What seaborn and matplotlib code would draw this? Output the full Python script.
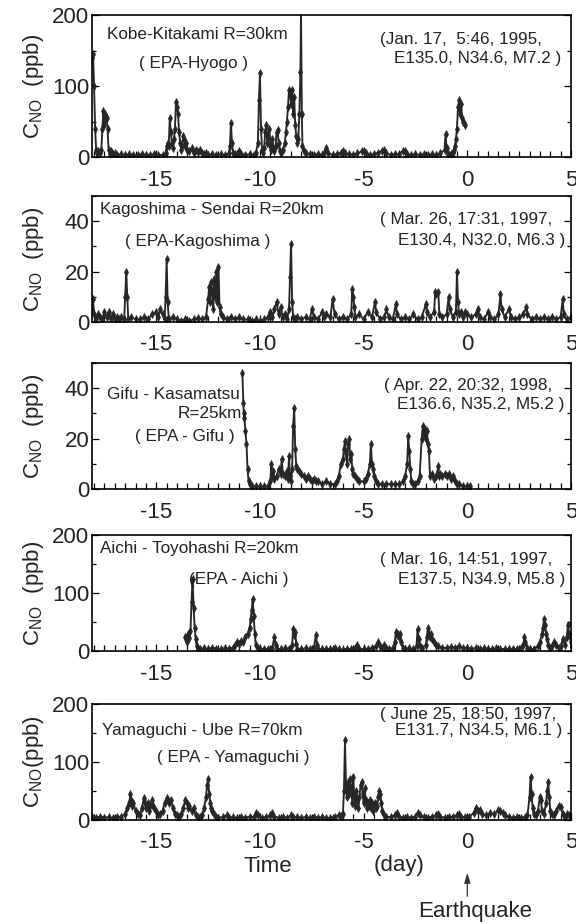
import matplotlib
matplotlib.use("Agg")
import matplotlib.pyplot as plt
import matplotlib.transforms as mtransforms
from matplotlib.ticker import MultipleLocator
import seaborn as sns
import pandas as pd

# ---------------- data (time in days relative to earthquake, C_NO in ppb) -------------
kobe = [(-18.1,140),(-18.05,145),(-18.0,100),(-17.95,40),(-17.9,10),(-17.85,6),(-17.8,8),(-17.7,5),
        (-17.65,10),(-17.6,40),(-17.55,65),(-17.5,45),(-17.45,60),(-17.4,55),(-17.35,40),(-17.3,10),
        (-17.25,4),(-17.2,8),(-17.1,4),(-17.0,5),(-16.9,3),(-16.7,4),(-16.5,3),(-16.3,4),(-16.1,3),
        (-15.9,3),(-15.7,4),(-15.5,3),(-15.3,3),(-15.1,4),(-14.9,3),(-14.7,3),(-14.55,5),(-14.5,15),
        (-14.45,20),(-14.4,15),(-14.35,55),(-14.3,35),(-14.25,20),(-14.2,12),(-14.15,25),(-14.1,40),
        (-14.05,78),(-14.0,70),(-13.95,60),(-13.9,35),(-13.85,20),(-13.8,10),(-13.75,15),(-13.7,30),
        (-13.65,25),(-13.6,15),(-13.55,20),(-13.5,10),(-13.4,8),(-13.3,12),(-13.2,6),(-13.1,10),
        (-13.0,7),(-12.9,10),(-12.8,6),(-12.7,4),(-12.6,5),(-12.5,3),(-12.3,4),(-12.1,3),(-11.9,4),
        (-11.7,3),(-11.5,5),(-11.45,15),(-11.4,48),(-11.35,20),(-11.3,5),(-11.2,4),(-11.1,4),
        (-11.0,8),(-10.9,4),(-10.7,3),(-10.5,4),(-10.3,3),(-10.2,5),(-10.1,20),(-10.05,80),
        (-10.0,118),(-9.95,40),(-9.9,10),(-9.85,5),(-9.8,12),(-9.75,35),(-9.7,45),(-9.65,20),
        (-9.6,30),(-9.55,40),(-9.5,15),(-9.45,10),(-9.4,25),(-9.35,12),(-9.3,8),(-9.25,15),
        (-9.2,35),(-9.15,38),(-9.1,20),(-9.05,8),(-9.0,5),(-8.9,10),(-8.8,20),(-8.75,35),(-8.7,50),
        (-8.65,70),(-8.6,95),(-8.55,90),(-8.5,75),(-8.45,95),(-8.4,60),(-8.35,85),(-8.3,45),
        (-8.25,30),(-8.2,20),(-8.15,25),(-8.1,60),(-8.05,120),(-8.02,205),(-7.98,60),(-7.95,15),
        (-7.9,8),(-7.8,5),(-7.6,4),(-7.4,3),(-7.2,4),(-7.0,3),(-6.9,6),(-6.8,12),(-6.7,5),(-6.5,3),
        (-6.3,4),(-6.1,6),(-6.0,9),(-5.9,5),(-5.7,4),(-5.5,3),(-5.3,5),(-5.1,8),(-5.0,9),(-4.9,5),
        (-4.7,3),(-4.5,4),(-4.3,6),(-4.1,9),(-4.0,10),(-3.9,5),(-3.7,3),(-3.5,4),(-3.3,4),(-3.1,9),
        (-3.0,8),(-2.9,4),(-2.7,3),(-2.5,4),(-2.3,3),(-2.1,4),(-1.9,3),(-1.7,4),(-1.5,3),(-1.3,5),
        (-1.1,10),(-1.05,32),(-1.0,12),(-0.95,4),(-0.9,3),(-0.8,4),(-0.7,5),(-0.65,10),(-0.6,15),
        (-0.55,25),(-0.5,40),(-0.45,70),(-0.4,80),(-0.35,60),(-0.3,75),(-0.25,55),(-0.2,50),
        (-0.15,48),(-0.1,45)]

kagoshima = [(-18.1,5),(-18.05,9),(-18.0,3),(-17.9,1),(-17.8,3),(-17.7,2),(-17.6,1),(-17.5,4),
             (-17.4,2),(-17.3,4),(-17.2,1),(-17.1,3),(-17.0,1),(-16.9,2),(-16.8,1),(-16.7,2),
             (-16.55,1),(-16.5,10),(-16.45,20),(-16.4,10),(-16.35,1),(-16.2,2),(-16.0,1),(-15.8,1),
             (-15.6,2),(-15.4,1),(-15.2,3),(-15.0,4),(-14.9,2),(-14.8,5),(-14.7,3),(-14.6,1),
             (-14.55,10),(-14.5,25),(-14.45,8),(-14.4,1),(-14.2,2),(-14.0,1),(-13.8,0.5),(-13.6,1),
             (-13.4,0.5),(-13.2,1),(-13.0,1.5),(-12.8,1),(-12.6,2),(-12.5,9),(-12.45,14),(-12.4,8),
             (-12.35,16),(-12.3,12),(-12.25,5),(-12.2,17),(-12.15,10),(-12.1,20),(-12.05,8),
             (-12.0,22),(-11.95,6),(-11.9,3),(-11.8,2),(-11.6,1),(-11.4,2),(-11.2,1),(-11.0,2),
             (-10.8,1),(-10.6,1),(-10.4,0.5),(-10.2,1),(-10.0,0.5),(-9.8,1),(-9.6,2),(-9.5,4),
             (-9.4,2),(-9.3,5),(-9.2,8),(-9.1,3),(-9.0,6),(-8.9,2),(-8.8,3),(-8.7,1),(-8.6,5),
             (-8.55,18),(-8.5,31),(-8.45,8),(-8.4,2),(-8.3,1),(-8.2,2),(-8.0,1),(-7.8,2),(-7.6,1),
             (-7.5,5),(-7.4,2),(-7.2,1),(-7.0,4),(-6.9,2),(-6.8,3),(-6.6,2),(-6.5,9),(-6.4,3),
             (-6.2,1),(-6.0,2),(-5.8,1),(-5.6,3),(-5.55,13),(-5.5,10),(-5.45,6),(-5.4,2),(-5.2,3),
             (-5.0,1),(-4.8,4),(-4.6,2),(-4.45,8),(-4.4,4),(-4.2,1),(-4.0,2),(-3.9,5),(-3.8,2),
             (-3.6,1),(-3.45,7),(-3.4,3),(-3.2,1),(-3.0,2),(-2.8,1),(-2.6,3),(-2.4,1),(-2.2,2),
             (-2.0,7),(-1.95,4),(-1.8,2),(-1.6,4),(-1.55,12),(-1.5,11),(-1.4,12),(-1.35,3),
             (-1.2,2),(-1.0,3),(-0.9,10),(-0.85,5),(-0.7,2),(-0.55,4),(-0.5,20),(-0.45,8),(-0.4,3),
             (-0.3,4),(-0.2,2),(-0.1,4),(0.0,3),(0.2,2),(0.4,3),(0.5,5),(0.6,2),(0.8,1),(1.0,4),
             (1.1,2),(1.3,1),(1.5,3),(1.6,11),(1.65,5),(1.8,2),(2.0,5),(2.1,2),(2.3,1),(2.5,2),
             (2.7,3),(2.85,6),(2.9,3),(3.1,1),(3.3,2),(3.5,1),(3.7,2),(3.9,1),(4.1,2),(4.3,1),
             (4.5,2),(4.6,9),(4.65,3),(4.8,1),(5.0,2)]

gifu = [(-10.85,46),(-10.8,34),(-10.78,30),(-10.75,28),(-10.7,23),(-10.65,18),(-10.6,8),(-10.55,3),
        (-10.5,2),(-10.4,1),(-10.2,1),(-10.0,1),(-9.8,1),(-9.6,1),(-9.5,3),(-9.45,10),(-9.4,5),
        (-9.35,7),(-9.3,4),(-9.2,5),(-9.1,8),(-9.0,6),(-8.95,12),(-8.9,6),(-8.8,5),(-8.7,7),
        (-8.65,4),(-8.6,13),(-8.55,5),(-8.5,3),(-8.45,8),(-8.4,25),(-8.35,32),(-8.3,16),(-8.25,9),
        (-8.2,8),(-8.1,7),(-8.0,6),(-7.9,5),(-7.8,4),(-7.7,5),(-7.6,4),(-7.5,3),(-7.4,4),(-7.3,3),
        (-7.2,3),(-7.0,2),(-6.8,3),(-6.6,2),(-6.4,2),(-6.3,3),(-6.2,5),(-6.1,10),(-6.0,12),
        (-5.95,16),(-5.9,19),(-5.85,14),(-5.8,10),(-5.75,18),(-5.7,20),(-5.65,12),(-5.6,14),
        (-5.55,8),(-5.5,6),(-5.4,5),(-5.3,4),(-5.2,3),(-5.0,3),(-4.9,4),(-4.8,6),(-4.7,10),
        (-4.65,18),(-4.6,10),(-4.55,8),(-4.5,5),(-4.4,3),(-4.3,2),(-4.1,2),(-3.9,2),(-3.7,2),
        (-3.5,2),(-3.3,2),(-3.1,3),(-3.0,5),(-2.9,10),(-2.85,21),(-2.8,15),(-2.75,8),(-2.7,3),
        (-2.6,2),(-2.5,2),(-2.4,3),(-2.3,5),(-2.2,20),(-2.15,25),(-2.1,22),(-2.05,24),(-2.0,20),
        (-1.95,23),(-1.9,18),(-1.85,15),(-1.8,5),(-1.7,6),(-1.6,4),(-1.5,5),(-1.4,9),(-1.35,5),
        (-1.3,6),(-1.2,5),(-1.1,6),(-1.0,5),(-0.9,6),(-0.8,4),(-0.7,5),(-0.6,3),(-0.5,2),(-0.4,2),
        (-0.2,1),(0.0,1),(0.15,1)]

aichi = [(-13.6,25),(-13.55,20),(-13.5,15),(-13.45,30),(-13.4,22),(-13.35,35),(-13.3,85),(-13.25,125),
         (-13.2,75),(-13.15,40),(-13.1,20),(-13.05,8),(-13.0,4),(-12.9,3),(-12.7,5),(-12.5,3),
         (-12.3,6),(-12.1,4),(-11.9,3),(-11.7,5),(-11.5,4),(-11.3,6),(-11.2,10),(-11.1,15),
         (-11.0,12),(-10.9,18),(-10.8,15),(-10.7,25),(-10.6,30),(-10.5,40),(-10.45,55),(-10.4,70),
         (-10.35,90),(-10.3,60),(-10.25,30),(-10.2,10),(-10.1,5),(-10.0,3),(-9.8,4),(-9.6,3),
         (-9.4,6),(-9.3,25),(-9.25,10),(-9.2,4),(-9.0,3),(-8.8,5),(-8.6,4),(-8.45,10),(-8.4,38),
         (-8.35,28),(-8.3,32),(-8.25,12),(-8.2,4),(-8.0,3),(-7.8,5),(-7.6,3),(-7.4,6),(-7.3,28),
         (-7.25,10),(-7.2,4),(-7.0,3),(-6.8,4),(-6.6,3),(-6.4,6),(-6.2,3),(-6.0,2),(-5.8,4),
         (-5.6,3),(-5.4,5),(-5.3,10),(-5.2,4),(-5.0,3),(-4.8,4),(-4.6,5),(-4.4,8),(-4.3,15),
         (-4.2,8),(-4.1,5),(-4.0,10),(-3.9,6),(-3.8,4),(-3.6,5),(-3.5,15),(-3.45,32),(-3.4,28),
         (-3.35,30),(-3.3,25),(-3.25,30),(-3.2,15),(-3.1,5),(-3.0,4),(-2.8,5),(-2.6,3),(-2.45,8),
         (-2.4,38),(-2.35,20),(-2.3,8),(-2.2,5),(-2.0,10),(-1.95,25),(-1.9,40),(-1.85,30),
         (-1.8,25),(-1.75,30),(-1.7,20),(-1.6,15),(-1.5,10),(-1.4,8),(-1.2,6),(-1.0,5),(-0.8,7),
         (-0.6,6),(-0.4,8),(-0.2,5),(0.0,6),(0.2,4),(0.4,5),(0.6,3),(0.8,5),(1.0,4),(1.2,3),
         (1.4,5),(1.6,3),(1.8,4),(2.0,3),(2.2,4),(2.4,3),(2.6,6),(2.7,10),(2.75,25),(2.8,15),
         (2.9,6),(3.0,3),(3.2,4),(3.4,8),(3.5,15),(3.6,30),(3.65,40),(3.7,55),(3.75,45),(3.8,30),
         (3.85,20),(3.9,10),(4.0,5),(4.1,8),(4.2,15),(4.3,10),(4.4,5),(4.5,8),(4.6,20),(4.7,10),
         (4.8,25),(4.85,45),(4.9,30),(5.0,15)]

yamaguchi = [(-18.1,5),(-17.9,4),(-17.7,6),(-17.5,4),(-17.3,5),(-17.1,3),(-16.9,5),(-16.7,6),
             (-16.5,10),(-16.4,20),(-16.3,30),(-16.25,45),(-16.2,35),(-16.15,25),(-16.1,30),
             (-16.0,15),(-15.9,10),(-15.8,8),(-15.7,20),(-15.6,38),(-15.55,30),(-15.5,20),
             (-15.4,30),(-15.35,15),(-15.3,25),(-15.2,35),(-15.15,25),(-15.1,20),(-15.0,15),
             (-14.9,8),(-14.8,10),(-14.7,15),(-14.6,30),(-14.5,38),(-14.45,35),(-14.4,30),
             (-14.3,35),(-14.2,20),(-14.1,10),(-14.0,8),(-13.9,6),(-13.8,10),(-13.7,20),(-13.6,35),
             (-13.5,30),(-13.45,20),(-13.4,25),(-13.3,15),(-13.2,20),(-13.1,8),(-13.0,6),(-12.9,5),
             (-12.8,8),(-12.7,20),(-12.6,40),(-12.55,60),(-12.5,70),(-12.45,45),(-12.4,30),
             (-12.35,20),(-12.3,15),(-12.2,10),(-12.1,5),(-12.0,4),(-11.8,5),(-11.6,8),(-11.5,4),
             (-11.3,5),(-11.1,3),(-10.9,5),(-10.7,4),(-10.5,6),(-10.3,5),(-10.2,12),(-10.1,8),
             (-9.9,4),(-9.7,5),(-9.5,8),(-9.4,12),(-9.3,6),(-9.1,4),(-8.9,5),(-8.7,4),(-8.5,8),
             (-8.4,6),(-8.2,5),(-8.0,4),(-7.8,5),(-7.6,3),(-7.4,6),(-7.2,4),(-7.0,5),(-6.8,3),
             (-6.6,4),(-6.4,6),(-6.2,8),(-6.1,7),(-6.0,10),(-5.95,50),(-5.9,138),(-5.85,60),
             (-5.8,40),(-5.75,65),(-5.7,45),(-5.65,70),(-5.6,55),(-5.55,30),(-5.5,75),(-5.45,40),
             (-5.4,25),(-5.35,50),(-5.3,35),(-5.25,20),(-5.2,40),(-5.15,60),(-5.1,65),(-5.05,45),
             (-5.0,30),(-4.95,55),(-4.9,35),(-4.85,20),(-4.8,30),(-4.75,25),(-4.7,35),(-4.65,20),
             (-4.6,30),(-4.55,15),(-4.5,25),(-4.45,30),(-4.4,20),(-4.35,25),(-4.3,40),(-4.25,50),
             (-4.2,45),(-4.15,30),(-4.1,15),(-4.0,8),(-3.9,6),(-3.7,5),(-3.5,8),(-3.4,12),(-3.3,6),
             (-3.1,4),(-2.9,5),(-2.7,4),(-2.5,6),(-2.4,12),(-2.3,8),(-2.1,5),(-1.9,4),(-1.7,6),
             (-1.5,8),(-1.4,10),(-1.3,6),(-1.1,4),(-0.9,5),(-0.7,6),(-0.5,8),(-0.4,10),(-0.3,6),
             (-0.1,5),(0.1,6),(0.3,12),(0.4,20),(0.5,15),(0.6,18),(0.7,10),(0.9,8),(1.1,12),
             (1.3,10),(1.5,18),(1.6,15),(1.7,12),(1.8,8),(2.0,5),(2.2,4),(2.4,6),(2.6,4),(2.8,5),
             (2.9,8),(3.0,40),(3.05,75),(3.1,45),(3.15,20),(3.2,10),(3.3,8),(3.4,15),(3.5,40),
             (3.55,35),(3.6,15),(3.7,10),(3.8,30),(3.85,50),(3.9,65),(3.95,40),(4.0,15),(4.1,10),
             (4.2,8),(4.3,15),(4.4,25),(4.5,22),(4.6,10),(4.7,6),(4.8,10),(4.9,8),(5.0,5)]

series = [kobe, kagoshima, gifu, aichi, yamaguchi]
y_limits = [200, 50, 50, 200, 200]
y_majors = [100, 20, 20, 100, 100]
x_ticks = [-15, -10, -5, 0, 5]
titles = [["Kobe-Kitakami R=30km", "( EPA-Hyogo )"],
          ["Kagoshima - Sendai R=20km", "( EPA-Kagoshima )"],
          ["Gifu - Kasamatsu", "R=25km", "( EPA - Gifu )"],
          ["Aichi - Toyohashi R=20km", "(EPA - Aichi )"],
          ["Yamaguchi - Ube R=70km", "( EPA - Yamaguchi )"]]
quakes = [["(Jan. 17,  5:46, 1995,", "E135.0, N34.6, M7.2 )"],
          ["( Mar. 26, 17:31, 1997,", "E130.4, N32.0, M6.3 )"],
          ["( Apr. 22, 20:32, 1998,", "E136.6, N35.2, M5.2 )"],
          ["( Mar. 16, 14:51, 1997,", "E137.5, N34.9, M5.8 )"],
          ["( June 25, 18:50, 1997,", "E131.7, N34.5, M6.1 )"]]
ylabels = ["C$_{\\mathregular{NO}}$  (ppb)"] * 4 + ["C$_{\\mathregular{NO}}$(ppb)"]

# ---------------- style ----------------
sns.set_theme(style="ticks")
plt.rcParams["font.family"] = ["Liberation Sans", "DejaVu Sans"]
plt.rcParams["mathtext.fontset"] = "custom"
plt.rcParams["mathtext.rm"] = "Liberation Sans"
plt.rcParams["mathtext.it"] = "Liberation Sans"
plt.rcParams["axes.unicode_minus"] = False

W, H = 576, 924
fig = plt.figure(figsize=(W / 100, H / 100), dpi=100)
fig.patch.set_facecolor("white")

# panel (top, bottom) in pixels
boxes = [(15, 157), (196, 322), (363, 489), (535, 651), (704, 820)]
L, R = 92, 571
ink = "#262626"
TXT = 12.3
TICK = 16

# text positions: (x, y) in data coords
title_pos = [[(-17.4, 172, "left"), (-13.2, 131, "center")],
             [(-17.7, 44.5, "left"), (-13.0, 32, "center")],
             [(-17.4, 37.5, "left"), (-10.85, 30, "right"), (-13.6, 21, "center")],
             [(-17.7, 177, "left"), (-11.0, 124, "center")],
             [(-17.6, 155, "left"), (-11.3, 108, "center")]]
quake_pos = [[(3.6, 165), (4.55, 139)],
             [(4.1, 40.5), (4.7, 32.5)],
             [(4.1, 41), (4.7, 33.5)],
             [(4.1, 158), (4.7, 124)],
             [(4.3, 182), (4.6, 155)]]

axes = []
for i, data in enumerate(series):
    top, bot = boxes[i]
    ax = fig.add_axes([L / W, 1 - bot / H, (R - L) / W, (bot - top) / H])
    axes.append(ax)
    df = pd.DataFrame(data, columns=["t", "c"])
    sns.lineplot(data=df, x="t", y="c", ax=ax, color=ink, linewidth=1.35,
                 marker="d", markersize=4, markeredgewidth=0.5, markeredgecolor=ink,
                 estimator=None, sort=False)
    ax.set_xlim(-18.1, 5)
    ax.set_ylim(0, y_limits[i])
    ax.set_xticks(x_ticks)
    ax.set_xticklabels([str(v) for v in x_ticks])
    ax.xaxis.set_minor_locator(MultipleLocator(0.5))
    ax.yaxis.set_major_locator(MultipleLocator(y_majors[i]))
    ax.yaxis.set_minor_locator(MultipleLocator(y_majors[i] / 2))
    ax.tick_params(axis="both", which="both", direction="in", colors="black",
                   top=False, right=True, width=0.9)
    ax.tick_params(axis="both", which="both", labelcolor="#222")
    ax.tick_params(axis="x", which="major", length=5, labelsize=TICK, pad=9)
    ax.tick_params(axis="x", which="minor", length=4)
    ax.tick_params(axis="y", which="major", length=5, labelsize=TICK, pad=2)
    ax.tick_params(axis="y", which="minor", length=3)
    for s in ax.spines.values():
        s.set_visible(True)
        s.set_linewidth(1.2)
        s.set_color("black")
    ax.set_xlabel("")
    ax.set_ylabel(ylabels[i], fontsize=TICK, color="#222")
    ax.yaxis.set_label_coords(-0.095, 0.5)
    ax.set_facecolor("white")
    for txt, (x, y, ha) in zip(titles[i], title_pos[i]):
        ax.text(x, y, txt, fontsize=TXT, ha=ha, va="center", color="#222")
    for txt, (x, y) in zip(quakes[i], quake_pos[i]):
        ax.text(x, y, txt, fontsize=TXT, ha="right", va="center", color="#222")

# bottom annotations
ax5 = axes[-1]
yf = lambda py: 1 - py / H
bt = mtransforms.blended_transform_factory(ax5.transData, fig.transFigure)
ax5.text(-9.6, yf(866), "Time", transform=bt, fontsize=TICK, ha="center", va="center", color="#222")
ax5.text(-3.3, yf(866), "(day)", transform=bt, fontsize=TICK, ha="center", va="center", color="#222")
ax5.annotate("", xy=(0, yf(870)), xycoords=bt, xytext=(0, yf(899)), textcoords=bt,
             arrowprops=dict(arrowstyle="-|>,head_length=0.5,head_width=0.15", color="#333", lw=0.9),
             annotation_clip=False)
ax5.text(0.4, yf(911), "Earthquake", transform=bt, fontsize=TICK, ha="center", va="center", color="#222")

fig.savefig("out.png", dpi=100, facecolor="white")
